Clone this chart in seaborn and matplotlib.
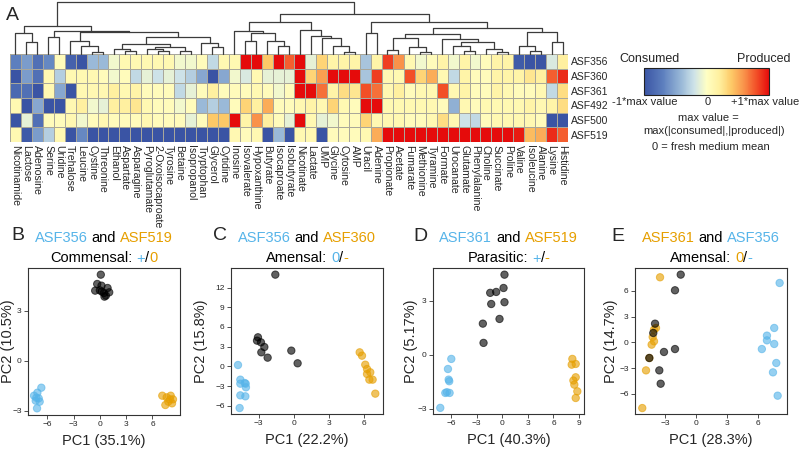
import numpy as np
import pandas as pd
import seaborn as sns
import matplotlib
matplotlib.use("Agg")
import matplotlib.pyplot as plt
from matplotlib.colors import LinearSegmentedColormap, Normalize
import matplotlib.cm as cm

sns.set_style("ticks")
plt.rcParams["font.family"] = ["Liberation Sans", "DejaVu Sans"]

# ---- heatmap data (scaled: -1 = max consumed, +1 = max produced) ----
metabolites = ["Nicotinamide", "Lactose", "Adenosine", "Serine", "Uridine", "Trehalose",
               "Leucine", "Cystine", "Threonine", "Ethanol", "Aspartate", "Asparagine",
               "Pyroglutamate", "2-Oxoisocaproate", "Tyrosine", "Betaine", "Isopropanol",
               "Tryptophan", "Glycerol", "Cytidine", "Inosine", "Isovalerate", "Hypoxanthine",
               "Butyrate", "Isocaproate", "Isobutyrate", "Nicotinate", "Lactate", "UMP",
               "Glycine", "Cytosine", "AMP", "Uracil", "Adenine", "Propionate", "Acetate",
               "Fumarate", "Methionine", "Tyramine", "Formate", "Urocanate", "Glutamate",
               "Phenylalanine", "Choline", "Succinate", "Proline", "Valine", "Isoleucine",
               "Alanine", "Lysine", "Histidine"]
strains = ["ASF356", "ASF360", "ASF361", "ASF492", "ASF500", "ASF519"]

asf356 = [-0.7, -0.55, -0.8, -0.65, 0.05, -0.9, -1, -0.4, -0.4, -0.05, 0.1, 0.1, 0.1, 0.1,
          0.1, -0.05, -0.05, 0.05, -0.25, 0.1, 0.1, 1, 1, 0.4, 1, 0.75, 1, -0.1, 0.35, 0.15,
          0.15, 0.15, -0.35, 0.15, 0.85, 0.6, 0.1, -0.05, 0.05, 0.15, -0.05, 0.15, -0.05,
          0.05, 0.15, 0.15, -0.95, -1, -1, -0.15, 0.2]
asf360 = [-1, -0.55, -0.8, 0.1, -0.3, 0.1, 0.1, 0.1, 0.05, -0.05, 0.05, -0.25, -0.1, -0.2,
          -0.1, -0.2, -0.3, -0.5, -1, -0.5, -0.05, -0.15, 0.1, -0.1, -0.1, -0.1, 1, 0.35,
          0.55, 1, 1, 1, -0.35, 0.85, 0.1, 0.1, 0.8, 0.35, 0.5, 0.1, -0.25, 0.15, 0.05, 0.05,
          0.15, 0.15, 0.15, 0.25, 0.2, 0.75, 0.9]
asf361 = [-0.85, -0.8, -1, 0.1, -0.5, -1, 0.1, 0.1, 0.1, 0.2, 0.1, 0.15, 0.05, 0.05, 0.05,
          -0.25, -0.1, 0.05, 0.2, 0.05, 0.05, 0.05, 0.1, 0.05, -0.05, 0.05, 1, 1, 0.7, 0.15,
          0.3, 0.25, 0.8, 0.7, 0.1, 0.2, 0.05, 0.1, 0.1, 0.8, 0.1, 0.15, 0.05, 0.05, 0.15,
          0.1, 0.05, 0.05, 0.1, -0.25, 0.3]
asf492 = [0.1, -1, -0.5, -1, -1, 0.1, 0.2, -0.05, -0.1, 0.2, 0.2, 0.25, 0.1, 0.05, 0.05,
          -0.05, 0.05, -0.4, -0.3, -0.4, 0.05, 0.35, 0.2, 0.5, 0.05, 0.05, 0.1, 0.15, 0.1,
          0.35, 0.1, 0.05, 1, 1, 0.1, 0.1, 0.1, 0.1, 0.1, 0.05, -0.45, 0.1, 0.05, 0.1, 0.1,
          0.1, 0.1, 0.15, 0.1, 0.15, 0.3]
asf500 = [-1, -0.1, -0.8, 0.05, 0.05, 0.1, -0.05, 0.05, 0.1, 0.05, 0.05, 0.05, 0.1, 0.05,
          0.05, 0.05, -0.1, 0.05, 0.4, 0.4, 1, 0.15, 0.6, 0.2, 0.05, -0.1, 1, 0.1, -0.1,
          -0.05, 0.05, 0.05, 0.35, 0.1, 0.1, 0.1, 0.05, 0.05, 0.1, 0.3, 0.1, -0.2, -0.25,
          0.05, 0.1, 0.1, 0.1, 0.1, 0.05, -1, -1]
asf519 = [0.1, -0.95, -0.55, -0.3, 0.1, -1, -0.65, -1, -1, -1, -1, -1, -1, -1, -1, -1, -1,
          -1, -1, -1, 0.1, 0.05, 0.1, -1, -0.4, -1, 0.1, 0.1, -1, 0.05, 0.05, 0.05, 0.1, 0.5,
          1, 1, 1, 1, 1, 1, 1, 1, 1, 1, 1, 1, 0.95, 0.45, 0.5, 0.9, 0.75]

# dendrogram over the metabolite columns: (height, left, right), leaves = column index
left_tree = (28,
             (20.7, 0, (11.7, 1, 2)),
             (22.7,
              (16.7, 3, 4),
              (21.7,
               (13.3, 5, (8.3, 6, (2.3, 7, 8))),
               (17.3,
                (10, (5, 9, (3.3, 10, 11)),
                 (6.7, (5, 12, (3.3, 13, 14)), (3.3, 15, 16))),
                (11, 17, (6.7, 18, 19))))))
right_tree = (40,
              (32.3,
               (23.3, 20, (20.7, (13.3, 21, 22), (12.7, 23, (8.3, 24, 25)))),
               (24.3, 26, (17.7, 27, (15.7, 28, (8.3, 29, (2.3, 30, 31)))))),
              (32.3,
               (20.7, 32, 33),
               (25.7,
                (20, (15.7, (4, 34, 35), (6.7, 36, (2.3, 37, 38))),
                 (15, 39, (12.3, (8.3, 40, (3.3, 41, 42)), (5, 43, (2.3, 44, 45))))),
                (22.3, (8.3, 46, (3.3, 47, 48)), (12.3, 49, 50)))))
tree = (52, left_tree, right_tree)

# ---- PCA scores (PC1, PC2) ----
b_356 = [(-6.67, -1.61), (-7.5, -2.09), (-7.12, -1.91), (-6.97, -2.25), (-7.31, -2.39),
         (-6.86, -2.45), (-7.16, -2.85), (-7.24, -2.21)]
b_519 = [(7.12, -2.09), (7.62, -2.19), (8.08, -2.09), (8.34, -2.31), (7.81, -2.45),
         (7.47, -2.65), (8.23, -2.55), (8.0, -2.31)]
b_co = [(0.11, 5.18), (-0.3, 4.62), (0.19, 4.52), (-0.53, 4.22), (0.0, 4.24), (0.88, 4.38),
        (1.07, 4.12), (0.46, 4.08), (0.69, 3.92), (0.23, 4.16), (0.53, 3.86)]

c_356 = [(-4.77, 0.2), (-4.57, -2.03), (-4.57, -2.64), (-4.2, -2.54), (-4.11, -2.64),
         (-4.09, -3.2), (-4.57, -4.42), (-4.14, -4.57), (-4.63, -6.35)]
c_360 = [(5.66, 2.13), (5.86, 1.62), (6.14, 0.25), (6.29, -0.41), (6.57, -0.91),
         (6.29, -1.17), (6.49, -2.03), (6.77, -2.03), (7.0, -4.16)]
c_co = [(-1.57, 13.96), (-3.06, 4.42), (-3.14, 3.91), (-2.8, 3.65), (-2.51, 2.94),
        (-2.77, 2.13), (-2.23, 1.32), (-0.2, 2.39), (0.34, 0.46)]

d_361 = [(-5.95, -0.24), (-6.34, -0.8), (-6.26, -1.39), (-6.19, -1.48), (-6.65, -2.13),
         (-6.46, -2.09), (-6.15, -2.13), (-7.24, -2.96)]
d_519 = [(8.21, -0.24), (8.13, -0.56), (8.6, -0.52), (8.6, -1.26), (8.33, -1.44),
         (8.44, -1.67), (8.79, -2.04), (8.6, -2.41)]
d_co = [(0.27, 4.44), (0.16, 3.7), (-1.4, 3.43), (-0.7, 3.48), (0.27, 2.91), (-1.28, 2.81),
        (-0.31, 1.98), (-2.26, 1.72), (-2.18, 0.65)]

e_361 = [(-3.47, 7.56), (-3.86, 1.67), (-4.05, 1.47), (-4.18, 0.62), (-4.05, 0.12),
         (-4.28, -0.27), (-4.5, -1.82), (-4.82, -3.26), (-5.18, -7.64)]
e_356 = [(8.04, 6.9), (7.52, 1.67), (6.82, 0.78), (6.82, 0.23), (7.52, -0.19), (6.33, -0.78),
         (7.72, -2.4), (7.4, -3.49), (7.85, -6.2)]
e_co = [(-1.48, 7.87), (-2.03, 6.05), (-3.95, 2.17), (-4.12, 1.09), (-4.5, -1.82),
        (-3.09, -1.12), (-2.03, -0.78), (-3.54, -3.26), (-3.41, -4.81)]

BLUE = "#56B4E9"
ORANGE = "#E69F00"
BLACK = "#000000"

fig = plt.figure(figsize=(8, 4.49), dpi=100)


def px(x, y, w, h):
    return [x / 800, 1 - (y + h) / 449, w / 800, h / 449]


def ftext(x, y, s, **kw):
    return fig.text(x / 800, 1 - y / 449, s, **kw)


# ---- A: heatmap ----
cmap = LinearSegmentedColormap.from_list("cp", [
    (0.0, "#3a54a4"), (0.15, "#5d7fbe"), (0.3, "#9bbad8"), (0.4, "#cde2e8"),
    (0.5, "#ffffc4"), (0.6, "#fff0a0"), (0.7, "#fdca68"), (0.8, "#f9924a"),
    (0.9, "#f25028"), (1.0, "#e50b0b")])

df = pd.DataFrame([asf356, asf360, asf361, asf492, asf500, asf519],
                  index=strains, columns=metabolites)
ax_h = fig.add_axes(px(10, 54, 558, 88))
sns.heatmap(df, ax=ax_h, cmap=cmap, vmin=-1, vmax=1, cbar=False,
            linewidths=0.7, linecolor="#a9a79a", xticklabels=True, yticklabels=True)
ax_h.yaxis.tick_right()
ax_h.set_yticklabels(strains, rotation=0, fontsize=7.5)
ax_h.set_xticklabels(metabolites, rotation=270, fontsize=7.6)
ax_h.tick_params(length=0, pad=2)
ax_h.set_xlabel("")
ax_h.set_ylabel("")

ax_d = fig.add_axes(px(10, 0, 558, 54))
ax_d.set_xlim(0, len(metabolites))
ax_d.set_ylim(0, 54)
ax_d.axis("off")


def draw_tree(node):
    if isinstance(node, int):
        return node + 0.5, 0
    h, left, right = node
    xl, hl = draw_tree(left)
    xr, hr = draw_tree(right)
    ax_d.plot([xl, xl, xr, xr], [hl, h, h, hr], color="#3c3c3c", lw=0.9, clip_on=False)
    return (xl + xr) / 2, h


draw_tree(tree)

# colour key
cax = fig.add_axes(px(644, 68, 125, 27))
cb = fig.colorbar(cm.ScalarMappable(Normalize(-1, 1), cmap), cax=cax, orientation="horizontal")
cb.set_ticks([])
cb.outline.set_linewidth(0.8)
cb.outline.set_edgecolor("#222222")
ftext(649, 59, "Consumed", fontsize=9, ha="center", va="center")
ftext(764, 59, "Produced", fontsize=9, ha="center", va="center")
ftext(645, 102, "-1*max value", fontsize=8, ha="center", va="center")
ftext(708, 102, "0", fontsize=8, ha="center", va="center")
ftext(765, 102, "+1*max value", fontsize=8, ha="center", va="center")
ftext(708, 118, "max value =", fontsize=8, ha="center", va="center")
ftext(714, 131, "max(|consumed|,|produced|)", fontsize=8, ha="center", va="center")
ftext(711, 147, "0 = fresh medium mean", fontsize=8, ha="center", va="center")

# ---- panel letters ----
for lab, (x, y) in zip("ABCDE", [(12, 16), (18, 235), (220, 235), (420, 237), (618, 237)]):
    ftext(x, y, lab, fontsize=14, ha="center", va="center")

renderer = fig.canvas.get_renderer()


def width(s, size):
    t = fig.text(0, 0, s, fontsize=size)
    w = t.get_window_extent(renderer).width
    t.remove()
    return w


def multicolor(cx, base_y, parts, size=10.5):
    sp = width("a a", size) - width("aa", size)
    ws = [sp if s == " " else width(s, size) for s, c in parts]
    x = cx - sum(ws) / 2
    for (s, c), w in zip(parts, ws):
        if s != " ":
            ftext(x, base_y, s, color=c, fontsize=size, ha="left", va="baseline")
        x += w


panels = [
    dict(box=(28, 268, 152, 147), groups=[(b_519, ORANGE), (b_356, BLUE), (b_co, BLACK)],
         xlim=(-8.19, 9.14), ylim=(-3.25, 5.58), xt=[-6, -3, 0, 3, 6], yt=[-3, 0, 3],
         xl="PC1 (35.1%)", yl="PC2 (10.5%)", ylx=-0.085,
         t1=[("ASF356", BLUE), (" ", BLACK), ("and", BLACK), (" ", BLACK), ("ASF519", ORANGE)],
         t2=[("Commensal:", BLACK), (" ", BLACK), ("+", BLUE), ("/", BLACK), ("0", ORANGE)]),
    dict(box=(231, 268, 152, 146), groups=[(c_360, ORANGE), (c_356, BLUE), (c_co, BLACK)],
         xlim=(-5.37, 7.66), ylim=(-7.26, 14.97), xt=[-3, 0, 3, 6], yt=[-6, -3, 0, 3, 6, 9, 12],
         xl="PC1 (22.2%)", yl="PC2 (15.8%)", ylx=-0.15,
         t1=[("ASF356", BLUE), (" ", BLACK), ("and", BLACK), (" ", BLACK), ("ASF360", ORANGE)],
         t2=[("Amensal:", BLACK), (" ", BLACK), ("0", BLUE), ("/", BLACK), ("-", ORANGE)]),
    dict(box=(433, 268, 151, 146), groups=[(d_519, ORANGE), (d_361, BLUE), (d_co, BLACK)],
         xlim=(-8.09, 9.57), ylim=(-3.3, 4.81), xt=[-6, -3, 0, 3, 6, 9], yt=[-3, 0, 3],
         xl="PC1 (40.3%)", yl="PC2 (5.17%)", ylx=-0.10,
         t1=[("ASF361", BLUE), (" ", BLACK), ("and", BLACK), (" ", BLACK), ("ASF519", ORANGE)],
         t2=[("Parasitic:", BLACK), (" ", BLACK), ("+", BLUE), ("/", BLACK), ("-", ORANGE)]),
    dict(box=(635, 268, 152, 146), groups=[(e_361, ORANGE), (e_356, BLUE), (e_co, BLACK)],
         xlim=(-5.88, 8.75), ylim=(-8.33, 8.64), xt=[-3, 0, 3, 6], yt=[-6, -3, 0, 3, 6],
         xl="PC1 (28.3%)", yl="PC2 (14.7%)", ylx=-0.11,
         t1=[("ASF361", ORANGE), (" ", BLACK), ("and", BLACK), (" ", BLACK), ("ASF356", BLUE)],
         t2=[("Amensal:", BLACK), (" ", BLACK), ("0", ORANGE), ("/", BLACK), ("-", BLUE)]),
]

for p in panels:
    x0, y0, w, h = p["box"]
    ax = fig.add_axes(px(x0, y0, w, h))
    rows = []
    for pts, col in p["groups"]:
        for (a, b) in pts:
            rows.append({"PC1": a, "PC2": b, "grp": col})
    sdf = pd.DataFrame(rows)
    palette = {col: col for _, col in p["groups"]}
    sns.scatterplot(data=sdf, x="PC1", y="PC2", hue="grp", palette=palette, legend=False,
                    s=28, alpha=0.62, linewidth=0.7, edgecolor="face", ax=ax)
    ax.set_xlim(*p["xlim"])
    ax.set_ylim(*p["ylim"])
    ax.set_xticks(p["xt"])
    ax.set_yticks(p["yt"])
    ax.tick_params(labelsize=6, length=3, width=0.6, pad=1.5, color="#333333")
    for sp_ in ax.spines.values():
        sp_.set_visible(True)
        sp_.set_color("#333333")
        sp_.set_linewidth(0.8)
    ax.set_xlabel(p["xl"], fontsize=10.5)
    ax.set_ylabel(p["yl"], fontsize=10.5)
    ax.xaxis.set_label_coords(0.5, -0.13)
    ax.yaxis.set_label_coords(p["ylx"], 0.5)
    cx = x0 + w / 2
    multicolor(cx, 241.5, p["t1"])
    multicolor(cx, 262.5, p["t2"])

fig.savefig("out.png", dpi=100)
